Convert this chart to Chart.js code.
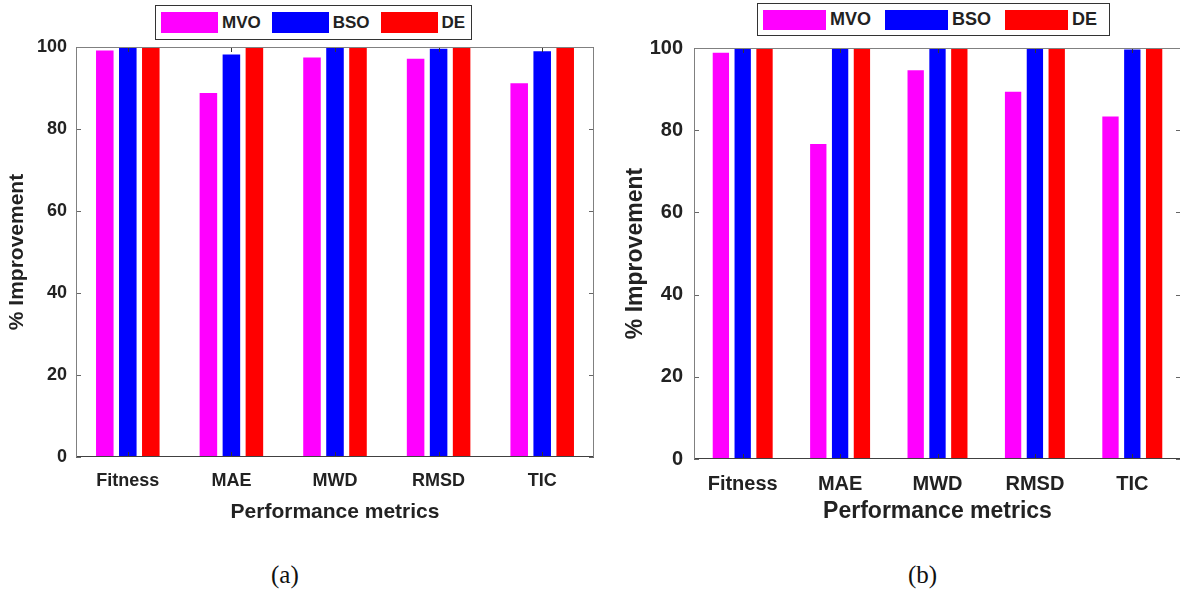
<!DOCTYPE html>
<html>
<head>
<meta charset="utf-8">
<script src="https://cdn.jsdelivr.net/npm/chart.js@4.4.1/dist/chart.umd.min.js"></script>
<style>
  html, body { margin: 0; padding: 0; background: #fff; }
  body { width: 1180px; height: 592px; position: relative; overflow: hidden; font-family: 'Liberation Sans', Arial, sans-serif; }
  .panel { position: absolute; top: 0; height: 535px; }
  #panelA { left: 0; width: 600px; }
  #panelB { left: 600px; width: 582px; }
  .legend { position: absolute; display: flex; align-items: center; background: #fff; border: 1px solid #333; box-sizing: border-box; font-weight: bold; color: #222; }
  .legend .item { display: flex; align-items: center; }
  .legend .sw { display: inline-block; }
  .caption { position: absolute; top: 561px; font-family: 'Liberation Serif', 'Times New Roman', serif; font-size: 25px; color: #111; }
</style>
</head>
<body>
<div class="panel" id="panelA"><canvas id="chartA"></canvas></div>
<div class="panel" id="panelB"><canvas id="chartB"></canvas></div>
<div class="legend" id="legendA"></div>
<div class="legend" id="legendB"></div>
<div class="caption" style="left:271px">(a)</div>
<div class="caption" style="left:908px">(b)</div>
<script>
// categories and series
const categories = ['Fitness', 'MAE', 'MWD', 'RMSD', 'TIC'];
const seriesNames = ['MVO', 'BSO', 'DE'];
const seriesColors = ['#ff00ff', '#0000ff', '#ff0000'];
const yTicks = [0, 20, 40, 60, 80, 100];

// panel (a)
const mvoA = [99.4, 89.0, 97.7, 97.4, 91.4];
const bsoA = [100, 98.4, 100, 99.8, 99.2];
const deA = [100, 100, 100, 100, 100];

// panel (b)
const mvoB = [99.1, 76.9, 94.8, 89.6, 83.6];
const bsoB = [100, 100, 100, 100, 99.9];
const deB = [100, 100, 100, 100, 100];

const textColor = '#222';

// matlab style box with inward ticks
const boxPlugin = {
    id: 'matlabBox',
    afterDatasetsDraw(chart) {
        const { ctx, chartArea: a, scales: { x, y } } = chart;
        const line = (x1, y1, x2, y2) => { ctx.beginPath(); ctx.moveTo(x1, y1); ctx.lineTo(x2, y2); ctx.stroke(); };
        ctx.save();
        ctx.lineWidth = 1;
        ctx.strokeStyle = '#333';
        categories.forEach((c, i) => {
            const px = Math.round(x.getPixelForValue(i)) + 0.5;
            line(px, a.bottom, px, a.bottom - 5);
            line(px, a.top, px, a.top + 5);
        });
        ctx.strokeStyle = '#666';
        yTicks.forEach(v => {
            const py = Math.round(y.getPixelForValue(v)) + 0.5;
            line(a.left, py, a.left + 5, py);
            line(a.right, py, a.right - 5, py);
        });
        ctx.strokeStyle = '#808080';
        const l = Math.round(a.left) + 0.5, r = Math.round(a.right) - 0.5;
        const t = Math.round(a.top) + 0.5, b = Math.round(a.bottom) - 0.5;
        line(l, b, l, t); line(l, t, r, t); line(r, t, r, b);
        ctx.strokeStyle = '#404040';
        line(l, b, r, b);
        ctx.restore();
    }
};

function makeChart(id, values, cfg) {
    const ctx = document.getElementById(id).getContext('2d');
    const datasets = values.map((data, i) => ({
        label: seriesNames[i],
        data: data,
        backgroundColor: seriesColors[i],
        borderColor: 'rgba(255,255,255,0.45)',
        borderWidth: 1,
        borderSkipped: false,
        categoryPercentage: cfg.catPct,
        barPercentage: cfg.barPct
    }));

    return new Chart(ctx, {
        type: 'bar',
        data: { labels: categories, datasets: datasets },
        options: {
            responsive: true,
            maintainAspectRatio: false,
            animation: false,
            layout: { padding: { top: cfg.top, right: cfg.right, left: 0, bottom: 10 } },
            plugins: { legend: { display: false }, tooltip: { enabled: false } },
            scales: {
                x: {
                    grid: { display: false, drawTicks: false },
                    border: { display: false },
                    ticks: { color: textColor, padding: cfg.xTickPad, font: { family: 'Liberation Sans', weight: 'bold', size: cfg.tickSize } },
                    title: { display: true, text: 'Performance metrics', color: textColor, padding: { top: cfg.xTitlePad, bottom: 0 }, font: { family: 'Liberation Sans', weight: 'bold', size: cfg.titleSize } },
                    afterFit: (s) => { s.height = cfg.xHeight; }
                },
                y: {
                    min: 0,
                    max: 100,
                    grid: { display: false, drawTicks: false },
                    border: { display: false },
                    afterBuildTicks: (s) => { s.ticks = yTicks.map(v => ({ value: v })); },
                    ticks: { color: textColor, padding: cfg.yTickPad, font: { family: 'Liberation Sans', weight: 'bold', size: cfg.tickSize } },
                    title: { display: true, text: '% Improvement', color: textColor, padding: { top: cfg.yTitlePad, bottom: 0 }, font: { family: 'Liberation Sans', weight: 'bold', size: cfg.titleSize } },
                    afterFit: (s) => { s.width = cfg.yWidth; }
                }
            }
        },
        plugins: [boxPlugin]
    });
}

makeChart('chartA', [mvoA, bsoA, deA], {
    top: 47, right: 6, yWidth: 76, xHeight: 68,
    catPct: 0.666, barPct: 0.85,
    tickSize: 18, titleSize: 21, xTickPad: 13, xTitlePad: 2, yTickPad: 9, yTitlePad: 5
});
makeChart('chartB', [mvoB, bsoB, deB], {
    top: 48, right: 1, yWidth: 94, xHeight: 66,
    catPct: 0.672, barPct: 0.84,
    tickSize: 20, titleSize: 23, xTickPad: 13, xTitlePad: 1, yTickPad: 11, yTitlePad: 22
});

// legends, built from the series arrays
function makeLegend(id, box) {
    const el = document.getElementById(id);
    Object.assign(el.style, { left: box.x + 'px', top: box.y + 'px', width: box.w + 'px', height: box.h + 'px', fontSize: box.font + 'px', paddingLeft: box.padL + 'px' });
    seriesNames.forEach((name, i) => {
        const item = document.createElement('div');
        item.className = 'item';
        item.style.marginRight = box.gap + 'px';
        const sw = document.createElement('span');
        sw.className = 'sw';
        Object.assign(sw.style, { width: box.swW + 'px', height: box.swH + 'px', background: seriesColors[i], marginRight: '4px' });
        const txt = document.createElement('span');
        txt.textContent = name;
        item.appendChild(sw);
        item.appendChild(txt);
        el.appendChild(item);
    });
}
makeLegend('legendA', { x: 155, y: 5, w: 317, h: 35, font: 17, padL: 5, gap: 11, swW: 57, swH: 21 });
makeLegend('legendB', { x: 757, y: 3, w: 353, h: 33, font: 18, padL: 5, gap: 14, swW: 63, swH: 20 });
</script>
</body>
</html>
